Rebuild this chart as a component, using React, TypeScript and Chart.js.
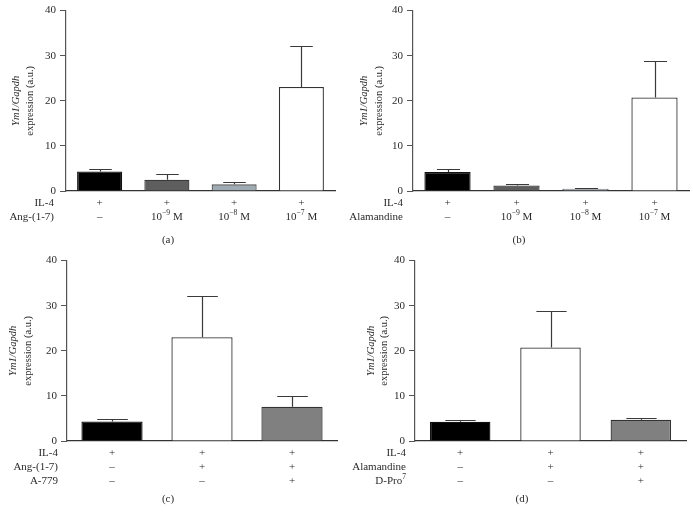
import React, { useEffect, useRef } from "react";
import { Chart, registerables } from "chart.js";

Chart.register(...registerables);

// ---------- data ----------
const yTicks = [0, 10, 20, 30, 40];
const yTitleItalic = "Ym1/Gapdh";
const yTitlePlain = "expression (a.u.)";

const panelACategories = ["IL-4", "IL-4 + Ang-(1-7) 1e-9 M", "IL-4 + Ang-(1-7) 1e-8 M", "IL-4 + Ang-(1-7) 1e-7 M"];
const panelAValues = [4.35, 2.5, 1.48, 23.05];
const panelAErrors = [0.58, 1.26, 0.58, 9.2];
const panelARowNames = ["IL-4", "Ang-(1-7)"];
const panelARowIL4 = ["+", "+", "+", "+"];
const panelARowDrug = ["–", "10^{−9} M", "10^{−8} M", "10^{−7} M"];

const panelBCategories = ["IL-4", "IL-4 + Alamandine 1e-9 M", "IL-4 + Alamandine 1e-8 M", "IL-4 + Alamandine 1e-7 M"];
const panelBValues = [4.2, 1.24, 0.5, 20.75];
const panelBErrors = [0.66, 0.36, 0.16, 8.05];
const panelBRowNames = ["IL-4", "Alamandine"];
const panelBRowIL4 = ["+", "+", "+", "+"];
const panelBRowDrug = ["–", "10^{−9} M", "10^{−8} M", "10^{−7} M"];

const panelCCategories = ["IL-4", "IL-4 + Ang-(1-7)", "IL-4 + Ang-(1-7) + A-779"];
const panelCValues = [4.35, 23.0, 7.6];
const panelCErrors = [0.5, 9.2, 2.4];
const panelCRowNames = ["IL-4", "Ang-(1-7)", "A-779"];
const panelCRowIL4 = ["+", "+", "+"];
const panelCRowDrug = ["–", "+", "+"];
const panelCRowBlocker = ["–", "–", "+"];

const panelDCategories = ["IL-4", "IL-4 + Alamandine", "IL-4 + Alamandine + D-Pro7"];
const panelDValues = [4.26, 20.75, 4.7];
const panelDErrors = [0.5, 8.05, 0.5];
const panelDRowNames = ["IL-4", "Alamandine", "D-Pro^{7}"];
const panelDRowIL4 = ["+", "+", "+"];
const panelDRowDrug = ["–", "+", "+"];
const panelDRowBlocker = ["–", "–", "+"];

// ---------- styles ----------
const FONT = '"Liberation Serif", "Times New Roman", serif';
const TEXT = "#2b2b2b";
const doseFill = ["#000000", "#5e5e5e", "#9eabb3", "#ffffff"];
const doseBorder = ["#111111", "#3a3a3a", "#555555", "#333333"];
const blockFill = ["#000000", "#ffffff", "#808080"];
const blockBorder = ["#111111", "#333333", "#333333"];

type PanelCfg = {
  left: number; top: number; width: number; height: number;
  area: { left: number; right: number; top: number; bottom: number };
  categories: string[]; values: number[]; errors: number[];
  fills: string[]; borders: string[];
  rowNames: string[]; rows: string[][];
  rowNameX: number; titleX: [number, number];
  caption: string; captionX: number; captionY: number;
  barPct: number;
};

const panels: PanelCfg[] = [
  {
    left: 0, top: 0, width: 346, height: 250,
    area: { left: 66, right: 335, top: 10, bottom: 191 },
    categories: panelACategories, values: panelAValues, errors: panelAErrors,
    fills: doseFill, borders: doseBorder,
    rowNames: panelARowNames, rows: [panelARowIL4, panelARowDrug],
    rowNameX: 54, titleX: [16, 30],
    caption: "(a)", captionX: 168, captionY: 240, barPct: 0.67,
  },
  {
    left: 346, top: 0, width: 347, height: 250,
    area: { left: 67, right: 343, top: 10, bottom: 191 },
    categories: panelBCategories, values: panelBValues, errors: panelBErrors,
    fills: doseFill, borders: doseBorder,
    rowNames: panelBRowNames, rows: [panelBRowIL4, panelBRowDrug],
    rowNameX: 57, titleX: [18, 33],
    caption: "(b)", captionX: 173, captionY: 240, barPct: 0.67,
  },
  {
    left: 0, top: 250, width: 346, height: 274,
    area: { left: 67, right: 337, top: 9, bottom: 191 },
    categories: panelCCategories, values: panelCValues, errors: panelCErrors,
    fills: blockFill, borders: blockBorder,
    rowNames: panelCRowNames, rows: [panelCRowIL4, panelCRowDrug, panelCRowBlocker],
    rowNameX: 58, titleX: [13, 28],
    caption: "(c)", captionX: 168, captionY: 249, barPct: 0.68,
  },
  {
    left: 346, top: 250, width: 347, height: 274,
    area: { left: 69, right: 340, top: 10, bottom: 191 },
    categories: panelDCategories, values: panelDValues, errors: panelDErrors,
    fills: blockFill, borders: blockBorder,
    rowNames: panelDRowNames, rows: [panelDRowIL4, panelDRowDrug, panelDRowBlocker],
    rowNameX: 60, titleX: [25, 38],
    caption: "(d)", captionX: 176, captionY: 249, barPct: 0.67,
  },
];

// draw text with ^{...} superscripts
function parseRich(text: string) {
  const parts: { t: string; sup: boolean }[] = [];
  const re = /\^\{([^}]*)\}/g;
  let last = 0;
  let m: RegExpExecArray | null;
  while ((m = re.exec(text))) {
    if (m.index > last) parts.push({ t: text.slice(last, m.index), sup: false });
    parts.push({ t: m[1], sup: true });
    last = m.index + m[0].length;
  }
  if (last < text.length) parts.push({ t: text.slice(last), sup: false });
  return parts;
}

function drawRich(ctx: CanvasRenderingContext2D, text: string, x: number, y: number, align: "center" | "right", size: number) {
  const parts = parseRich(text);
  const normal = `${size}px ${FONT}`;
  const small = `${size * 0.7}px ${FONT}`;
  let total = 0;
  const widths = parts.map((p) => {
    ctx.font = p.sup ? small : normal;
    const w = ctx.measureText(p.t).width;
    total += w;
    return w;
  });
  let cx = align === "center" ? x - total / 2 : x - total;
  ctx.textAlign = "left";
  ctx.textBaseline = "middle";
  parts.forEach((p, i) => {
    ctx.font = p.sup ? small : normal;
    ctx.fillText(p.t, cx, p.sup ? y - size * 0.35 : y);
    cx += widths[i];
  });
}

function Panel({ cfg }: { cfg: PanelCfg }) {
  const ref = useRef<HTMLCanvasElement>(null);
  useEffect(() => {
    const canvas = ref.current!;
    const a = cfg.area;
    const decor = {
      id: "decor",
      afterDatasetsDraw(chart: any) {
        const ctx = chart.ctx as CanvasRenderingContext2D;
        const y = chart.scales.y;
        const meta = chart.getDatasetMeta(0);
        ctx.save();
        ctx.strokeStyle = "#3a3a3a";
        ctx.lineWidth = 1.2;
        cfg.values.forEach((v, i) => {
          const bar = meta.data[i];
          const x = Math.round(bar.x) + 0.5;
          const yv = y.getPixelForValue(v);
          const ye = Math.round(y.getPixelForValue(v + cfg.errors[i])) + 0.5;
          const half = bar.width * 0.25;
          ctx.beginPath();
          ctx.moveTo(x, yv);
          ctx.lineTo(x, ye);
          ctx.moveTo(x - half, ye);
          ctx.lineTo(x + half, ye);
          ctx.stroke();
        });
        ctx.restore();
      },
      afterDraw(chart: any) {
        const ctx = chart.ctx as CanvasRenderingContext2D;
        const xs = chart.scales.x;
        const ca = chart.chartArea;
        ctx.save();
        ctx.fillStyle = TEXT;
        cfg.rows.forEach((row, r) => {
          const yy = ca.bottom + 12 + r * 14;
          drawRich(ctx, cfg.rowNames[r], cfg.rowNameX, yy, "right", 11);
          row.forEach((cell, i) => {
            drawRich(ctx, cell, xs.getPixelForValue(i), yy, "center", 11);
          });
        });
        // caption
        ctx.font = `11px ${FONT}`;
        ctx.textAlign = "center";
        ctx.textBaseline = "middle";
        ctx.fillText(cfg.caption, cfg.captionX, cfg.captionY);
        // y title
        const cy = (ca.top + ca.bottom) / 2;
        ctx.save();
        ctx.translate(cfg.titleX[0], cy);
        ctx.rotate(-Math.PI / 2);
        ctx.font = `italic 10.5px ${FONT}`;
        ctx.fillText(yTitleItalic, 0, 0);
        ctx.restore();
        ctx.save();
        ctx.translate(cfg.titleX[1], cy);
        ctx.rotate(-Math.PI / 2);
        ctx.font = `10.5px ${FONT}`;
        ctx.fillText(yTitlePlain, 0, 0);
        ctx.restore();
        ctx.restore();
      },
    };
    const chart = new Chart(canvas, {
      type: "bar",
      data: {
        labels: cfg.categories,
        datasets: [
          {
            data: cfg.values,
            backgroundColor: cfg.fills,
            borderColor: cfg.borders,
            borderWidth: 1.3,
            borderSkipped: "start",
            barPercentage: cfg.barPct,
            categoryPercentage: 1,
          },
        ],
      },
      options: {
        responsive: false,
        animation: false,
        layout: { padding: { left: 0, top: a.top, right: cfg.width - a.right, bottom: 0 } },
        plugins: { legend: { display: false }, tooltip: { enabled: false } },
        scales: {
          x: {
            grid: { display: false },
            border: { display: true, color: "#333", width: 1.2 },
            ticks: { display: false },
            afterFit: (s: any) => { s.height = cfg.height - a.bottom; },
          },
          y: {
            min: yTicks[0],
            max: yTicks[yTicks.length - 1],
            afterBuildTicks: (s: any) => { s.ticks = yTicks.map((v) => ({ value: v })); },
            grid: { display: true, drawOnChartArea: false, drawTicks: true, tickLength: 6, color: "#555" },
            border: { display: true, color: "#555", width: 1.2 },
            ticks: { padding: 4, color: TEXT, font: { family: FONT, size: 11 } },
            afterFit: (s: any) => { s.width = a.left; },
          },
        },
      },
      plugins: [decor],
    } as any);
    return () => chart.destroy();
  }, [cfg]);
  return (
    <canvas
      ref={ref}
      width={cfg.width}
      height={cfg.height}
      style={{ position: "absolute", left: cfg.left, top: cfg.top, width: cfg.width, height: cfg.height }}
    />
  );
}

export default function App() {
  return (
    <div style={{ position: "absolute", left: 0, top: 0, width: 693, height: 524, background: "#fff" }}>
      {panels.map((p, i) => (
        <Panel key={i} cfg={p} />
      ))}
    </div>
  );
}
